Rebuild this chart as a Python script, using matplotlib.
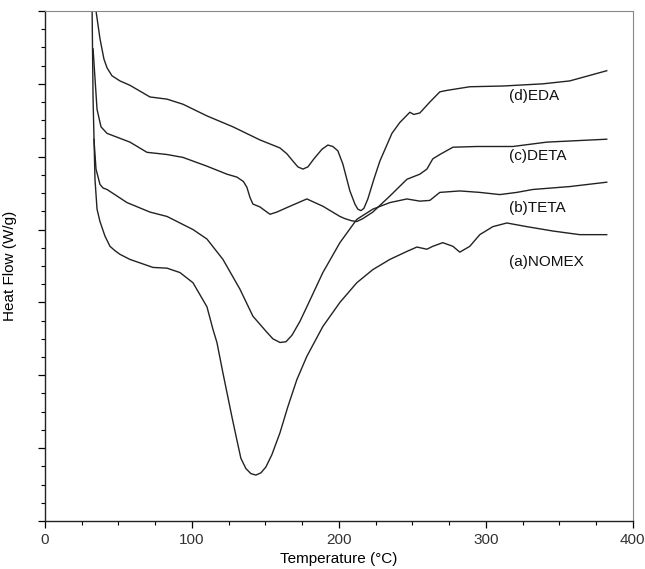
import matplotlib.pyplot as plt
import numpy as np

plt.rcParams['font.family'] = ['Liberation Sans', 'DejaVu Sans']

# (a) NOMEX
nomex_x = [32.0, 32.7, 34.0, 35.4, 37.4, 40.8, 44.2, 47.6, 51.0, 57.8, 73.5, 83.0, 91.8, 100.7,
           110.2, 112.2, 114.3, 117.0, 121.1, 127.2, 130.6, 133.3, 136.7, 140.1, 143.5, 146.9,
           150.3, 154.4, 159.9, 165.3, 171.4, 178.2, 189.1, 200.7, 212.2, 223.1, 234.7, 246.3,
           253.1, 259.9, 263.9, 270.7, 277.6, 282.3, 289.1, 295.9, 304.8, 314.3, 327.9, 345.6,
           363.9, 382.3]
nomex_y = [7.10, 5.79, 4.69, 4.28, 4.11, 3.91, 3.77, 3.71, 3.66, 3.59, 3.48, 3.47, 3.41, 3.27,
           2.94, 2.79, 2.63, 2.45, 2.03, 1.43, 1.11, 0.86, 0.72, 0.65, 0.63, 0.66,
           0.74, 0.91, 1.21, 1.57, 1.94, 2.26, 2.67, 3.00, 3.27, 3.45, 3.59, 3.70,
           3.76, 3.73, 3.77, 3.82, 3.77, 3.69, 3.77, 3.93, 4.04, 4.09, 4.04, 3.98,
           3.93, 3.93]

# (b) TETA
teta_x = [33.3, 34.7, 37.4, 39.5, 42.2, 55.8, 71.4, 83.0, 100.7, 110.2, 121.1, 132.7, 141.5,
          151.0, 155.1, 159.9, 164.0, 168.1, 173.5, 178.2, 189.1, 200.7, 212.2, 223.1, 234.7,
          246.3, 255.1, 261.9, 268.7, 282.3, 295.9, 309.5, 321.1, 332.0, 357.1, 382.3]
teta_y = [5.24, 4.83, 4.62, 4.57, 4.55, 4.37, 4.24, 4.18, 4.00, 3.87, 3.59, 3.18, 2.81,
          2.59, 2.50, 2.45, 2.46, 2.55, 2.74, 2.94, 3.41, 3.82, 4.14, 4.28, 4.37,
          4.42, 4.39, 4.40, 4.51, 4.53, 4.51, 4.48, 4.51, 4.55, 4.59, 4.65]

# (c) DETA
deta_x = [32.7, 35.4, 38.1, 42.2, 57.8, 69.4, 83.0, 93.9, 103.4, 110.2, 123.8, 130.6, 135.0,
          137.4, 139.5, 141.5, 146.3, 148.3, 153.1, 157.8, 166.7, 178.2, 189.1, 200.7, 204.1,
          208.8, 212.2, 216.3, 223.1, 234.7, 246.3, 255.1, 259.9, 263.9, 268.7, 277.6, 293.9,
          318.4, 341.5, 382.3]
deta_y = [6.48, 5.65, 5.41, 5.32, 5.20, 5.06, 5.03, 4.99, 4.92, 4.87, 4.76, 4.72, 4.66,
          4.58, 4.44, 4.35, 4.31, 4.28, 4.21, 4.24, 4.32, 4.42, 4.32, 4.18, 4.15,
          4.12, 4.11, 4.15, 4.24, 4.46, 4.69, 4.76, 4.83, 4.97, 5.03, 5.13, 5.14,
          5.14, 5.20, 5.24]

# (d) EDA
eda_x = [34.0, 37.4, 40.1, 42.2, 45.6, 51.0, 57.8, 71.4, 83.0, 93.9, 110.2, 127.9, 146.3, 159.9,
         164.6, 168.7, 172.1, 175.5, 178.9, 183.0, 188.4, 192.5, 195.9, 199.3, 202.7, 207.5,
         210.9, 212.9, 215.0, 217.0, 219.7, 223.8, 227.9, 236.1, 241.5, 248.3, 251.0, 255.1,
         261.9, 268.7, 273.5, 289.1, 311.6, 338.8, 357.1, 382.3]
eda_y = [7.10, 6.62, 6.34, 6.22, 6.11, 6.04, 5.98, 5.82, 5.79, 5.72, 5.56, 5.41, 5.23, 5.12,
         5.04, 4.94, 4.86, 4.83, 4.86, 4.97, 5.10, 5.16, 5.14, 5.08, 4.90, 4.53,
         4.35, 4.28, 4.26, 4.29, 4.42, 4.69, 4.94, 5.32, 5.47, 5.61, 5.58, 5.60,
         5.75, 5.89, 5.91, 5.96, 5.97, 6.00, 6.04, 6.18]

labels = ['(a)NOMEX', '(b)TETA', '(c)DETA', '(d)EDA']
label_y = [3.55, 4.29, 5.01, 5.83]

fig = plt.figure(figsize=(6.45, 5.69), dpi=100)
ax = fig.add_axes([0.0698, 0.0844, 0.9112, 0.8963])

for xs, ys in [(nomex_x, nomex_y), (teta_x, teta_y), (deta_x, deta_y), (eda_x, eda_y)]:
    ax.plot(xs, ys, color='#222222', lw=1.0)

for lab, ly in zip(labels, label_y):
    ax.text(316, ly, lab, fontsize=11, va='center', ha='left', color='#111111')

ax.set_xlim(0, 400)
ax.set_ylim(0, 7)
ax.set_xticks([0, 100, 200, 300, 400])
ax.set_xticks(np.arange(0, 401, 25), minor=True)
ax.set_yticks(np.arange(0, 8, 1))
ax.set_yticks(np.arange(0, 7.01, 0.25), minor=True)
ax.set_yticklabels([])
ax.tick_params(axis='both', which='major', direction='out', length=5, width=0.9,
               labelsize=11, labelcolor='#333333')
ax.tick_params(axis='both', which='minor', direction='out', length=3, width=0.8)

for s in ['top', 'right']:
    ax.spines[s].set_color('#888888')
    ax.spines[s].set_linewidth(0.8)
for s in ['left', 'bottom']:
    ax.spines[s].set_color('#222222')
    ax.spines[s].set_linewidth(1.0)

ax.set_xlabel('Temperature (°C)', fontsize=11, labelpad=4)
ax.set_ylabel('Heat Flow (W/g)', fontsize=11, labelpad=12)

fig.savefig('out.png', dpi=100)
